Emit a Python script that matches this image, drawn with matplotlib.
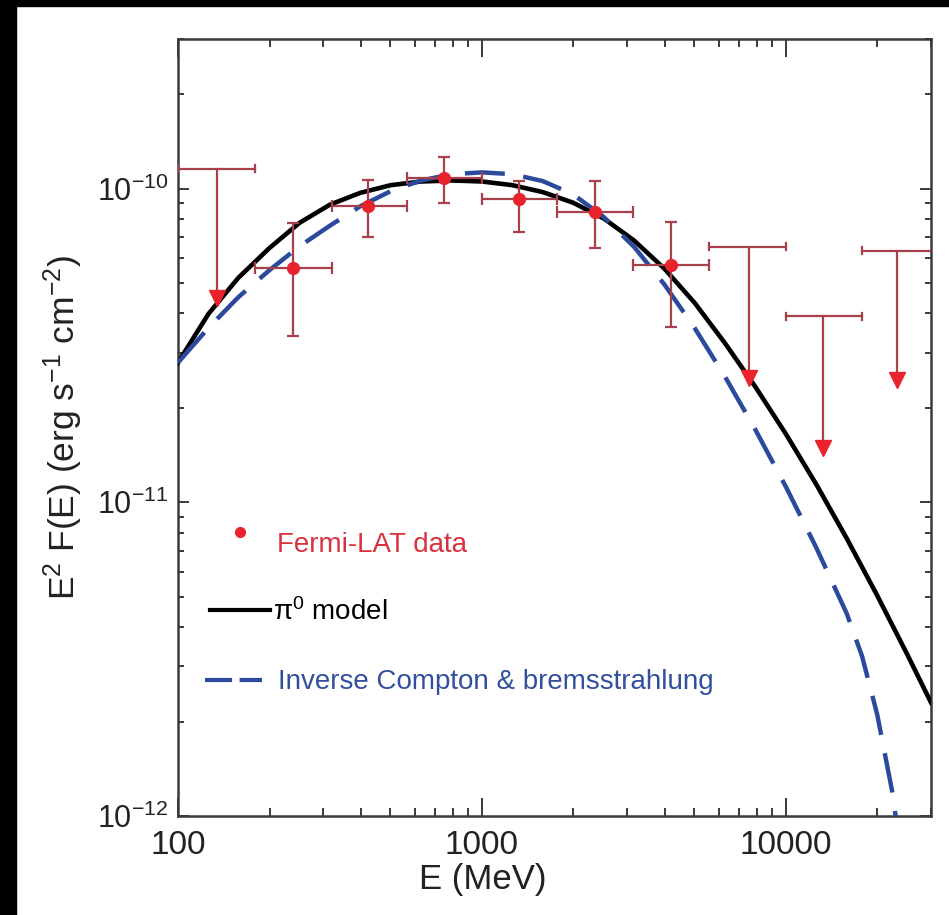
import numpy as np
import matplotlib
matplotlib.use("Agg")
import matplotlib.pyplot as plt
from matplotlib.patches import Rectangle
from matplotlib.ticker import LogLocator, FixedLocator, FixedFormatter, NullFormatter

plt.rcParams['font.family'] = ['Liberation Sans', 'DejaVu Sans']
plt.rcParams['mathtext.fontset'] = 'custom'
plt.rcParams['mathtext.rm'] = 'Liberation Sans'
plt.rcParams['mathtext.it'] = 'Liberation Sans'
plt.rcParams['mathtext.default'] = 'regular'

# Fermi-LAT flux points (MeV, erg s^-1 cm^-2)
e_pts = [239, 423, 752, 1324, 2355, 4188]
e_lo = [179, 321, 568, 1000, 1766, 3133]
e_hi = [321, 568, 1000, 1766, 3133, 5585]
f_pts = [5.57e-11, 8.83e-11, 1.078e-10, 9.29e-11, 8.45e-11, 5.71e-11]
f_lo = [3.40e-11, 7.00e-11, 8.98e-11, 7.30e-11, 6.47e-11, 3.61e-11]
f_hi = [7.75e-11, 1.068e-10, 1.258e-10, 1.06e-10, 1.055e-10, 7.85e-11]

# upper limits: bin centre, bin edges, limit value, arrow head position
ul_e = [134, 7568, 13270, 23120]
ul_lo = [100, 5585, 9980, 17740]
ul_hi = [179, 9980, 17740, 31600]
ul_f = [1.159e-10, 6.54e-11, 3.92e-11, 6.35e-11]
ul_head = [4.47e-11, 2.50e-11, 1.49e-11, 2.45e-11]

# pi0 decay model
pi0_e = [100, 126, 158, 200, 251, 316, 398, 501, 631, 794, 1000, 1259, 1585,
         1995, 2512, 3162, 3981, 5012, 6310, 7943, 10000, 12589, 15849, 19953,
         25119, 30000]
pi0_f = [2.79e-11, 3.99e-11, 5.20e-11, 6.47e-11, 7.78e-11, 8.89e-11, 9.70e-11,
         1.026e-10, 1.054e-10, 1.062e-10, 1.054e-10, 1.026e-10, 9.75e-11,
         9.02e-11, 8.04e-11, 6.84e-11, 5.56e-11, 4.32e-11, 3.21e-11, 2.33e-11,
         1.65e-11, 1.14e-11, 7.67e-12, 5.05e-12, 3.26e-12, 2.30e-12]

# inverse Compton + bremsstrahlung model
ic_e = [100, 126, 158, 200, 251, 316, 398, 501, 631, 794, 1000, 1259, 1585,
        1995, 2512, 3162, 3981, 5012, 6310, 7943, 10000, 12589, 15849, 17783,
        19953, 22387, 23988]
ic_f = [2.79e-11, 3.60e-11, 4.51e-11, 5.50e-11, 6.55e-11, 7.62e-11, 8.79e-11,
        9.82e-11, 1.062e-10, 1.112e-10, 1.127e-10, 1.112e-10, 1.057e-10,
        9.59e-11, 8.13e-11, 6.53e-11, 4.95e-11, 3.59e-11, 2.51e-11, 1.70e-11,
        1.12e-11, 7.16e-12, 4.42e-12, 3.24e-12, 2.11e-12, 1.19e-12, 7.33e-13]

x_ticks = [100, 1000, 10000]
x_ticklabels = ['100', '1000', '10000']
y_ticks = [1e-12, 1e-11, 1e-10]
y_ticklabels = [r'$10^{-12}$', r'$10^{-11}$', r'$10^{-10}$']

red = '#e8232e'
bar_red = '#a8404c'
blue = '#2c4a9c'

fig = plt.figure(figsize=(9.49, 9.15), dpi=100)
ax = fig.add_axes([178 / 949, 99 / 915, 753 / 949, 777 / 915])

# black frame strips along the left and top edges
fig.patches.append(Rectangle((0, 0), 16 / 949, 1, transform=fig.transFigure,
                             color='black', zorder=-1))
fig.patches.append(Rectangle((0, 1 - 6 / 915), 1, 6 / 915, transform=fig.transFigure,
                             color='black', zorder=-1))

ax.set_xscale('log')
ax.set_yscale('log')
ax.set_xlim(100, 3e4)
ax.set_ylim(1e-12, 3e-10)

ax.plot(pi0_e, pi0_f, color='black', lw=3.3, zorder=3, solid_joinstyle='round')
ax.plot(ic_e, ic_f, color=blue, lw=3.2, dashes=(9.0, 4.2), zorder=3)

# detections with error bars
e_pts_a = np.array(e_pts)
f_pts_a = np.array(f_pts)
xerr = [e_pts_a - np.array(e_lo), np.array(e_hi) - e_pts_a]
yerr = [f_pts_a - np.array(f_lo), np.array(f_hi) - f_pts_a]
ax.errorbar(e_pts, f_pts, xerr=xerr, yerr=yerr, fmt='none', ecolor=bar_red,
            elinewidth=1.6, capsize=4, capthick=1.6, zorder=4)
ax.plot(e_pts, f_pts, 'o', color=red, ms=8.5, zorder=5)

# upper limits
for e, lo, hi, f, h in zip(ul_e, ul_lo, ul_hi, ul_f, ul_head):
    ax.plot([lo, hi], [f, f], color=bar_red, lw=1.6, zorder=4)
    ax.plot([lo, lo], [f / 1.025, f * 1.025], color=bar_red, lw=1.6, zorder=4)
    ax.plot([hi, hi], [f / 1.025, f * 1.025], color=bar_red, lw=1.6, zorder=4)
    ax.plot([e, e], [f, h], color=bar_red, lw=1.6, zorder=4)
    ax.plot([e], [h], 'v', color=red, ms=11, zorder=5)

# axes styling
for sp in ax.spines.values():
    sp.set_linewidth(1.8)
    sp.set_color('#3a3a3a')

ax.xaxis.set_major_locator(FixedLocator(x_ticks))
ax.xaxis.set_major_formatter(FixedFormatter(x_ticklabels))
ax.xaxis.set_minor_locator(LogLocator(base=10, subs=np.arange(2, 10)))
ax.xaxis.set_minor_formatter(NullFormatter())
ax.yaxis.set_major_locator(FixedLocator(y_ticks))
ax.yaxis.set_major_formatter(FixedFormatter(y_ticklabels))
ax.yaxis.set_minor_locator(LogLocator(base=10, subs=np.arange(2, 10)))
ax.yaxis.set_minor_formatter(NullFormatter())

ax.tick_params(which='both', direction='in', top=True, right=True,
               color='#3a3a3a', width=1.4, labelcolor='#222222')
ax.tick_params(axis='x', which='major', length=13, pad=10, labelsize=24)
ax.tick_params(axis='x', which='minor', length=6)
ax.tick_params(axis='y', which='major', length=8, pad=7, labelsize=22)
ax.tick_params(axis='y', which='minor', length=4.5)

ax.set_xlabel('E (MeV)', fontsize=25, color='#222222')
ax.xaxis.set_label_coords(0.405, -0.060)
ax.set_ylabel(r'E$^2$ F(E) (erg s$^{-1}$ cm$^{-2}$)', fontsize=25.5, color='#222222')
ax.yaxis.set_label_coords(-0.123, 0.50)

# legend drawn by hand
ax.plot([0.0826], [0.3655], 'o', color=red, ms=7, transform=ax.transAxes, clip_on=False)
ax.text(0.132, 0.349, 'Fermi-LAT data', color='#d8323f', fontsize=20,
        va='center', ha='left', transform=ax.transAxes)
ax.plot([0.043, 0.1225], [0.265, 0.265], color='black', lw=3.0, transform=ax.transAxes)
ax.text(0.126, 0.262, r'$\pi^0$ model', color='black', fontsize=20,
        va='center', ha='left', transform=ax.transAxes)
ax.plot([0.036, 0.112], [0.175, 0.175], color=blue, lw=3.0, dashes=(6.5, 1.8),
        transform=ax.transAxes)
ax.text(0.133, 0.172, 'Inverse Compton & bremsstrahlung', color='#33509e', fontsize=20,
        va='center', ha='left', transform=ax.transAxes)

fig.savefig('out.png', dpi=100, facecolor='white')
